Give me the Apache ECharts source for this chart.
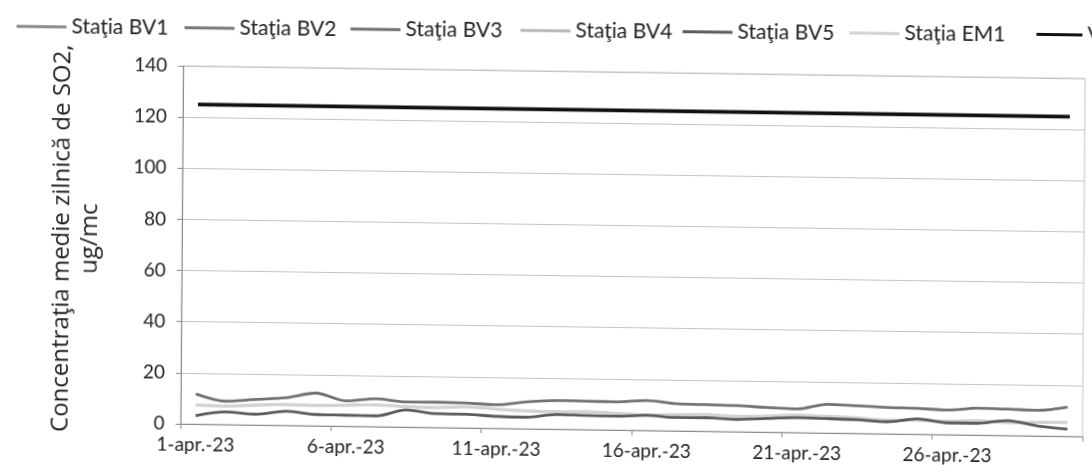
<!DOCTYPE html>
<html><head><meta charset="utf-8">
<script src="https://cdn.jsdelivr.net/npm/echarts@6/dist/echarts.min.js"></script>
<style>
html,body{margin:0;padding:0;background:#fff;overflow:hidden;}
#c{width:1092px;height:475px;transform:matrix(1,0.014,-0.0075,1,0,0);transform-origin:546px 237.5px;}
</style></head><body><div id="c"></div>
<script>
const categories = ['1-apr.-23','2-apr.-23','3-apr.-23','4-apr.-23','5-apr.-23','6-apr.-23','7-apr.-23','8-apr.-23','9-apr.-23','10-apr.-23',
  '11-apr.-23','12-apr.-23','13-apr.-23','14-apr.-23','15-apr.-23','16-apr.-23','17-apr.-23','18-apr.-23','19-apr.-23','20-apr.-23',
  '21-apr.-23','22-apr.-23','23-apr.-23','24-apr.-23','25-apr.-23','26-apr.-23','27-apr.-23','28-apr.-23','29-apr.-23','30-apr.-23'];
const seriesNames = ['Staţia BV1','Staţia BV2','Staţia BV3','Staţia BV4','Staţia BV5','Staţia EM1','VL'];
const bv1 = [];
const bv2 = [];
const bv3 = [11.8, 9.1, 10.0, 10.8, 12.8, 9.9, 10.9, 9.8, 9.9, 9.7, 9.2, 10.5, 11.2, 11.1, 11.0, 11.7, 10.6, 10.4, 10.2, 9.6, 9.2, 11.2, 10.8, 10.3, 10.1, 9.6, 10.5, 10.3, 10.0, 11.4];
const bv4 = [];
const bv5 = [3.3, 4.9, 4.2, 5.5, 4.4, 4.3, 4.2, 6.7, 5.4, 5.3, 4.7, 4.5, 5.7, 5.5, 5.4, 5.9, 5.2, 5.3, 4.8, 5.3, 5.8, 5.6, 5.3, 4.7, 6.0, 4.6, 4.6, 5.8, 3.9, 2.8];
const em1 = [7.5, 7.2, 7.8, 8.2, 8.0, 8.2, 8.5, 8.0, 7.8, 8.3, 7.5, 7.0, 6.8, 7.0, 6.5, 6.0, 6.3, 6.5, 6.0, 6.2, 6.8, 6.5, 6.0, 5.3, 5.5, 5.2, 5.6, 5.0, 5.3, 5.4];
const vl = [125, 125, 125, 125, 125, 125, 125, 125, 125, 125, 125, 125, 125, 125, 125, 125, 125, 125, 125, 125, 125, 125, 125, 125, 125, 125, 125, 125, 125, 125];
const yMin = 0, yMax = 140, yStep = 20;

const seriesData = [bv1, bv2, bv3, bv4, bv5, em1, vl];
const colors = ['#8d8d8d', '#7a7a7a', '#727272', '#b9b9b9', '#5c5c5c', '#d2d2d2', '#111111'];
const widths = [2.8, 2.8, 2.8, 2.8, 2.8, 3.2, 3.8];
const legendLeft = [10, 178, 344, 514, 676, 843, 1030];

const FONT = 'Lato';
const chart = echarts.init(document.getElementById('c'), null, {renderer: 'canvas'});
chart.setOption({
  animation: false,
  backgroundColor: '#ffffff',
  legend: seriesNames.map((n, i) => ({
    data: [n], left: legendLeft[i], top: 15 - 0.006 * (legendLeft[i] - 546), icon: 'rect',
    itemWidth: i === 6 ? 46 : 50, itemHeight: 3, selectedMode: false,
    textStyle: {fontFamily: FONT, fontSize: 21, color: '#222'}
  })),
  grid: {left: 182, right: 8, top: 71, bottom: 46, show: true, borderColor: '#c4c4c4', borderWidth: 1},
  xAxis: {
    type: 'category', data: categories, boundaryGap: true,
    axisLine: {lineStyle: {color: '#8a8a8a', width: 1}},
    axisTick: {show: true, interval: 4, length: 5, lineStyle: {color: '#8a8a8a'}},
    axisLabel: {interval: 4, fontFamily: FONT, fontSize: 19, color: '#222', margin: 11},
    splitLine: {show: false}
  },
  yAxis: {
    type: 'value', min: yMin, max: yMax, interval: yStep,
    name: 'Concentraţia medie zilnică de SO2,\nug/mc',
    nameLocation: 'middle', nameRotate: 90, nameGap: 78,
    nameTextStyle: {fontFamily: 'Open Sans', fontSize: 24, color: '#222', lineHeight: 28, align: 'center', padding: [0, 0, 0, 10]},
    axisLine: {show: true, lineStyle: {color: '#8a8a8a', width: 1}},
    axisTick: {show: true, length: 5, lineStyle: {color: '#8a8a8a'}},
    axisLabel: {fontFamily: FONT, fontSize: 19, color: '#222', margin: 16},
    splitLine: {lineStyle: {color: '#c4c4c4', width: 1}}
  },
  series: seriesNames.map((n, i) => ({
    name: n, type: 'line', data: seriesData[i], showSymbol: false, symbol: 'none',
    smooth: 0.3, connectNulls: false,
    lineStyle: {color: colors[i], width: widths[i]},
    itemStyle: {color: colors[i]},
    z: i === 6 ? 5 : (i === 5 ? 1 : 3)
  }))
});
</script></body></html>
